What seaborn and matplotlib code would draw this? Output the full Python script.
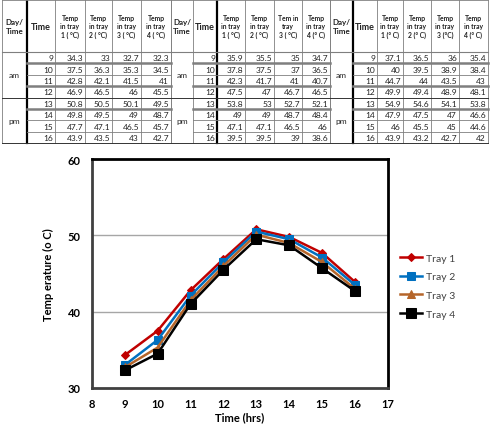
import numpy as np
import pandas as pd
import matplotlib
matplotlib.use('Agg')
import matplotlib.pyplot as plt
import seaborn as sns

# Datos de la tabla (tres grupos de medidas)
horas = [9, 10, 11, 12, 13, 14, 15, 16]
periodo = ['am', 'pm']

g1_t1 = [34.3, 37.5, 42.8, 46.9, 50.8, 49.8, 47.7, 43.9]
g1_t2 = [33, 36.3, 42.1, 46.5, 50.5, 49.5, 47.1, 43.5]
g1_t3 = [32.7, 35.3, 41.5, 46, 50.1, 49, 46.5, 43]
g1_t4 = [32.3, 34.5, 41, 45.5, 49.5, 48.7, 45.7, 42.7]

g2_t1 = [35.9, 37.8, 42.3, 47.5, 53.8, 49, 47.1, 39.5]
g2_t2 = [35.5, 37.5, 41.7, 47, 53, 49, 47.1, 39.5]
g2_t3 = [35, 37, 41, 46.7, 52.7, 48.7, 46.5, 39]
g2_t4 = [34.7, 36.5, 40.7, 46.5, 52.1, 48.4, 46, 38.6]

g3_t1 = [37.1, 40, 44.7, 49.9, 54.9, 47.9, 46, 43.9]
g3_t2 = [36.5, 39.5, 44, 49.4, 54.6, 47.5, 45.5, 43.2]
g3_t3 = [36, 38.9, 43.5, 48.9, 54.1, 47, 45, 42.7]
g3_t4 = [35.4, 38.4, 43, 48.1, 53.8, 46.6, 44.6, 42]

enc_g1 = ['Temp\nin tray\n1 ( °C)', 'Temp\nin tray\n2 ( °C)', 'Temp\nin tray\n3 ( °C)', 'Temp\nin tray\n4 ( °C)']
enc_g2 = ['Temp\nin tray\n1 ( °C)', 'Temp\nin tray\n2 ( °C)', 'Tem in\ntray\n3 ( °C)', 'Temp\nin tray\n4 (° C)']
enc_g3 = ['Temp\nin tray\n1 (° C)', 'Temp\nin tray\n2 (° C)', 'Temp\nin tray\n3 (°C)', 'Temp\nin tray\n4 (° C)']

bandejas = ['Tray 1', 'Tray 2', 'Tray 3', 'Tray 4']
colores = ['#C00000', '#0070C0', '#B5652A', '#000000']
marcadores = ['D', 's', '^', 's']
tam_marcador = [4, 6, 6, 7.5]

fuente = ['Lato', 'DejaVu Sans']

fig = plt.figure(figsize=(4.91, 4.27), dpi=100)

# 1. Tabla (en coordenadas de pixel)
tab = fig.add_axes([0, 0, 1, 1])
tab.set_xlim(0, 491)
tab.set_ylim(427, 0)
tab.axis('off')

grupos = [
    ([2, 27, 55, 85, 112, 141, 171], 27, enc_g1, [g1_t1, g1_t2, g1_t3, g1_t4]),
    ([171, 193, 217, 245, 274, 302, 330], 217, enc_g2, [g2_t1, g2_t2, g2_t3, g2_t4]),
    ([330, 353, 377, 403, 431, 459, 488], 353, enc_g3, [g3_t1, g3_t2, g3_t3, g3_t4]),
]
y_top, y_head = 1, 53
alto = 11.4
y_filas = [y_head + i * alto for i in range(9)]
gris = '#7f7f7f'

for xs, x_grueso, encabezados, series in grupos:
    # bordes verticales
    for x in xs:
        lw = 1.6 if x == x_grueso else 0.6
        c = 'black' if x == x_grueso else gris
        tab.plot([x, x], [y_top, y_filas[-1]], color=c, lw=lw)
    tab.plot([xs[0], xs[-1]], [y_top, y_top], color=gris, lw=0.6)
    tab.plot([xs[0], xs[-1]], [y_head, y_head], color=gris, lw=0.8)
    # lineas horizontales entre filas
    for i in range(1, 9):
        y = y_filas[i]
        if i in (1, 3, 5):
            tab.plot([xs[1], xs[-1]], [y, y], color=gris, lw=1.8)
        elif i in (4, 8):
            tab.plot([xs[0], xs[-1]], [y, y], color='#333333', lw=0.7)
        else:
            tab.plot([xs[1], xs[-1]], [y, y], color=gris, lw=0.6)
    # encabezados
    yh = (y_top + y_head) / 2
    tab.text((xs[0] + xs[1]) / 2, yh, 'Day/\nTime', ha='center', va='center',
             fontsize=5.8, fontweight='bold', family=fuente, color='#222222', linespacing=1.2)
    tab.text((xs[1] + xs[2]) / 2, yh, 'Time', ha='center', va='center',
             fontsize=6.5, fontweight='bold', family=fuente, color='#222222')
    for j, enc in enumerate(encabezados):
        tab.text((xs[j + 2] + xs[j + 3]) / 2, yh, enc, ha='center', va='center',
                 fontsize=4.9, fontweight='bold', family=fuente, color='#222222', linespacing=1.3)
    # am / pm
    for k, p in enumerate(periodo):
        tab.text((xs[0] + xs[1]) / 2, (y_filas[4 * k] + y_filas[4 * k + 4]) / 2, p,
                 ha='center', va='center', fontsize=6, family=fuente, color='#222222')
    # valores
    for i, h in enumerate(horas):
        yc = (y_filas[i] + y_filas[i + 1]) / 2
        tab.text(xs[2] - 2, yc, str(h), ha='right', va='center', fontsize=6,
                 family=fuente, color='#222222')
        for j, s in enumerate(series):
            tab.text(xs[j + 3] - 2, yc, f'{s[i]:g}', ha='right', va='center',
                     fontsize=6, family=fuente, color='#222222')

# 2. Grafico de lineas
df = pd.DataFrame({'Time': horas * 4,
                   'Temp': g1_t1 + g1_t2 + g1_t3 + g1_t4,
                   'Tray': np.repeat(bandejas, len(horas))})

ax = fig.add_axes([0.187, 0.089, 0.603, 0.536])
ax.set_facecolor('white')
for b, c, m, ms in zip(bandejas, colores, marcadores, tam_marcador):
    sns.lineplot(data=df[df['Tray'] == b], x='Time', y='Temp', color=c, marker=m,
                 markersize=ms, markeredgecolor=c, lw=1.8, label=b, ax=ax)

ax.set_xlim(8, 17)
ax.set_ylim(30, 60)
ax.set_xticks(range(8, 18))
ax.set_yticks([30, 40, 50, 60])
for y in [40, 50]:
    ax.axhline(y, color='#a6a6a6', lw=1, zorder=0)
for lado in ['top', 'right']:
    ax.spines[lado].set_color('black')
    ax.spines[lado].set_linewidth(2)
for lado in ['left', 'bottom']:
    ax.spines[lado].set_color('#404040')
    ax.spines[lado].set_linewidth(2)
ax.tick_params(axis='x', length=0, pad=7)
ax.tick_params(axis='y', length=0, pad=8)
for t in ax.get_xticklabels() + ax.get_yticklabels():
    t.set_fontsize(8)
    t.set_fontweight('bold')
    t.set_family(fuente)
ax.set_xlabel('Time (hrs)', fontsize=8, fontweight='bold', family=fuente, labelpad=2)
ax.set_ylabel('Temp erature (o C)', fontsize=8, fontweight='bold', family=fuente, labelpad=10)

ax.legend(loc='center', bbox_to_anchor=(0.87, 0.328), bbox_transform=fig.transFigure,
          frameon=False, fontsize=7.5, handlelength=2.2, handletextpad=0.3,
          labelspacing=0.9, labelcolor='#404040', prop={'family': fuente, 'size': 7.5})

fig.savefig('out.png', dpi=100)
